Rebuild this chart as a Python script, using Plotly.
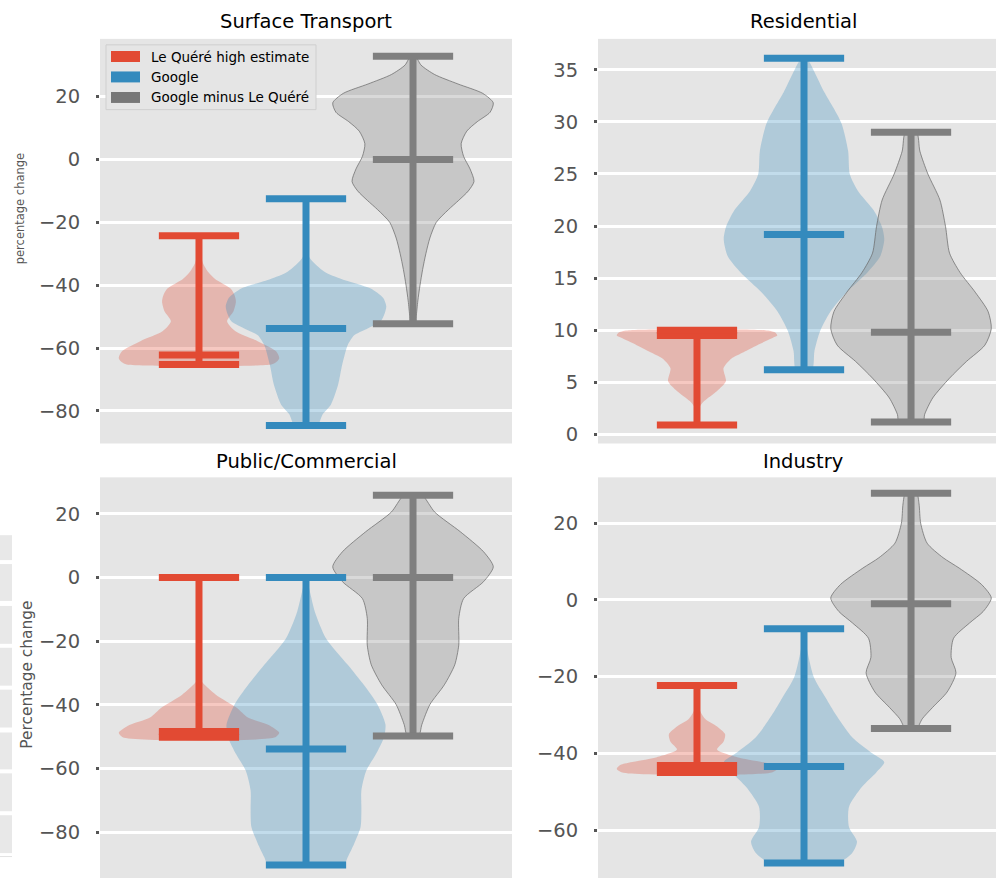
import plotly.graph_objects as go

# ---------------------------------------------------------------- data
SERIES = ["Le Quéré high estimate", "Google", "Google minus Le Quéré"]
COLORS = ["#E24A33", "#348ABD", "#7F7F7F"]
PANELS = ["Surface Transport", "Residential", "Public/Commercial", "Industry"]

# summary statistics (min, median, max) per series, one list per panel
surface_min = [-65.2, -84.6, -52.3]
surface_med = [-62.2, -53.8, 0.0]
surface_max = [-24.3, -12.5, 32.8]

residential_min = [0.9, 6.2, 1.2]
residential_med = [9.5, 19.2, 9.8]
residential_max = [10.0, 36.1, 29.0]

public_min = [-50.2, -90.3, -49.8]
public_med = [-48.4, -53.9, 0.0]
public_max = [0.0, 0.0, 25.9]

industry_min = [-45.0, -68.6, -33.5]
industry_med = [-43.2, -43.4, -1.0]
industry_max = [-22.3, -7.5, 27.8]

# kernel density profiles: evaluation levels and density scaled to 1 at the peak
surface_red_y = [-24.3, -30, -33, -36, -38, -41, -43, -45.2, -48.3, -51.5, -54.6, -57.8, -61, -63.2, -64.5, -65.2]
surface_red_d = [0.0, 0.02, 0.05, 0.12, 0.2, 0.39, 0.44, 0.46, 0.43, 0.35, 0.45, 0.73, 0.96, 1.0, 0.96, 0.9]
surface_blue_y = [-12.5, -25, -31, -35.7, -38, -41, -44, -46.7, -49, -51.5, -54, -55.9, -59, -65.4, -71.7, -78, -81, -83.5, -84.6]
surface_blue_d = [0.0, 0.01, 0.04, 0.23, 0.44, 0.8, 0.96, 1.0, 0.98, 0.93, 0.75, 0.6, 0.52, 0.45, 0.4, 0.31, 0.21, 0.17, 0.15]
surface_grey_y = [32.8, 30, 27, 24, 21, 18, 15, 12, 9, 5, 1, -3, -7, -10, -13, -16, -20, -25, -30, -35, -40, -45, -50, -52.3]
surface_grey_d = [0.03, 0.1, 0.27, 0.56, 0.87, 1.0, 0.96, 0.8, 0.67, 0.6, 0.63, 0.71, 0.76, 0.69, 0.57, 0.44, 0.29, 0.21, 0.16, 0.12, 0.087, 0.06, 0.04, 0.03]

residential_red_y = [10.0, 9.8, 9.5, 9.3, 8.57, 7.9, 7.3, 6.36, 5.1, 4.17, 3.2, 2.6, 1.5, 0.9]
residential_red_d = [0.85, 0.97, 1.0, 0.95, 0.75, 0.58, 0.43, 0.33, 0.36, 0.25, 0.09, 0.03, 0.005, 0.0]
residential_blue_y = [36.1, 35.7, 32.9, 31.3, 29.8, 27.2, 25.0, 23.4, 21.5, 19.95, 18.7, 17.1, 15.55, 13.65, 11.8, 9.9, 8.0, 6.2]
residential_blue_d = [0.03, 0.07, 0.25, 0.37, 0.47, 0.55, 0.57, 0.67, 0.87, 0.97, 1.0, 0.95, 0.79, 0.53, 0.33, 0.2, 0.13, 0.1]
residential_grey_y = [29.0, 27.2, 25.0, 22.5, 19.95, 17.4, 15.55, 13.65, 11.8, 10.15, 8.57, 7.0, 5.4, 3.5, 1.93, 1.2]
residential_grey_d = [0.07, 0.11, 0.21, 0.36, 0.43, 0.48, 0.61, 0.8, 0.96, 1.0, 0.92, 0.69, 0.48, 0.27, 0.17, 0.15]

public_red_y = [0.0, -20, -30, -32.5, -36.8, -40.9, -44, -46.6, -48.75, -50.2]
public_red_d = [0.0, 0.002, 0.01, 0.03, 0.21, 0.47, 0.61, 0.89, 1.0, 0.95]
public_blue_y = [0.0, -2.4, -10.7, -19.1, -27.4, -33.7, -39.9, -46.2, -50.3, -55.5, -60.7, -66.9, -73.1, -78.4, -83.6, -87.8, -90.3]
public_blue_d = [0.0, 0.03, 0.11, 0.25, 0.52, 0.72, 0.89, 0.99, 0.97, 0.87, 0.75, 0.69, 0.69, 0.68, 0.6, 0.52, 0.47]
public_grey_y = [25.9, 25.5, 20.6, 14.4, 8.1, 3.4, -1.25, -6.6, -12.8, -21.2, -27.4, -33.7, -39.9, -46.2, -49.8]
public_grey_d = [0.07, 0.13, 0.27, 0.59, 0.88, 1.0, 0.88, 0.63, 0.57, 0.57, 0.52, 0.39, 0.21, 0.11, 0.07]

industry_red_y = [-22.3, -28, -31, -33, -35, -37, -39, -41, -43, -44, -45.0]
industry_red_d = [0.0, 0.02, 0.1, 0.25, 0.35, 0.33, 0.25, 0.5, 0.95, 1.0, 0.93]
industry_blue_y = [-7.5, -12, -20, -25.5, -30, -35.8, -40, -42.3, -45, -48.8, -54, -59.2, -63, -66, -68.6]
industry_blue_d = [0.0, 0.03, 0.12, 0.27, 0.4, 0.6, 0.85, 1.0, 0.9, 0.72, 0.56, 0.56, 0.66, 0.6, 0.42]
industry_grey_y = [27.8, 25, 20, 14.8, 11, 8.3, 4, 0.5, -3, -6, -10, -15, -19, -24, -28, -31, -33.5]
industry_grey_d = [0.07, 0.1, 0.12, 0.2, 0.4, 0.6, 0.88, 1.0, 0.9, 0.73, 0.53, 0.5, 0.56, 0.45, 0.27, 0.14, 0.07]

Y_TICKS = [
    [-80, -60, -40, -20, 0, 20],
    [0, 5, 10, 15, 20, 25, 30, 35],
    [-80, -60, -40, -20, 0, 20],
    [-60, -40, -20, 0, 20],
]

# ---------------------------------------------------------------- layout constants
W, H = 996, 881
POSITIONS = [1, 2, 3]
VIOLIN_WIDTH = 1.5          # full width of a violin body at its peak
CAP_HALF = VIOLIN_WIDTH / 4  # half length of min / median / max bars
BAR_WIDTH = 7

def px_x(p):
    return p / W

def px_y(p):
    return 1 - p / H

# panel boxes in pixels: (left, right, top, bottom)
BOXES = [(100, 512, 39, 445), (598, 996, 39, 445), (100, 512, 479, 881), (598, 996, 479, 881)]
X_RANGES = [[0.075, 3.925], [0.075, 3.794], [0.075, 3.925], [0.075, 3.794]]
Y_RANGES = [[-90.35, 38.35], [-0.87, 37.97], [-94.4, 31.5], [-72.5, 31.95]]
TITLE_X = [306, 803, 306, 803]
TITLE_Y = [22, 22, 463, 463]

stats = [
    (surface_min, surface_med, surface_max),
    (residential_min, residential_med, residential_max),
    (public_min, public_med, public_max),
    (industry_min, industry_med, industry_max),
]
profiles = [
    [(surface_red_y, surface_red_d), (surface_blue_y, surface_blue_d), (surface_grey_y, surface_grey_d)],
    [(residential_red_y, residential_red_d), (residential_blue_y, residential_blue_d), (residential_grey_y, residential_grey_d)],
    [(public_red_y, public_red_d), (public_blue_y, public_blue_d), (public_grey_y, public_grey_d)],
    [(industry_red_y, industry_red_d), (industry_blue_y, industry_blue_d), (industry_grey_y, industry_grey_d)],
]


def rgba(hex_color, alpha):
    h = hex_color.lstrip("#")
    r, g, b = int(h[0:2], 16), int(h[2:4], 16), int(h[4:6], 16)
    return f"rgba({r},{g},{b},{alpha})"


fig = go.Figure()

for i in range(4):
    xa = "x" if i == 0 else f"x{i + 1}"
    ya = "y" if i == 0 else f"y{i + 1}"

    # violin bodies
    for s in range(3):
        levels, dens = profiles[i][s]
        pos = POSITIONS[s]
        half = [d * VIOLIN_WIDTH / 2 for d in dens]
        xs = [pos + h for h in half] + [pos - h for h in reversed(half)] + [pos + half[0]]
        ys = list(levels) + list(reversed(levels)) + [levels[0]]
        is_grey = s == 2
        fig.add_trace(go.Scatter(
            x=xs, y=ys, xaxis=xa, yaxis=ya, mode="lines",
            line=dict(shape="spline", smoothing=0.7,
                      color=rgba("#6E6E6E", 0.75) if is_grey else "rgba(0,0,0,0)",
                      width=1 if is_grey else 0),
            fill="toself", fillcolor=rgba("#808080" if is_grey else COLORS[s], 0.3),
            hoverinfo="skip", showlegend=False,
        ))

    # extrema and median bars
    mins, meds, maxs = stats[i]
    for s in range(3):
        pos = POSITIONS[s]
        xs, ys = [pos, pos, None], [mins[s], maxs[s], None]
        for v in (mins[s], meds[s], maxs[s]):
            xs += [pos - CAP_HALF, pos + CAP_HALF, None]
            ys += [v, v, None]
        fig.add_trace(go.Scatter(
            x=xs, y=ys, xaxis=xa, yaxis=ya, mode="lines",
            line=dict(color=COLORS[s], width=BAR_WIDTH),
            hoverinfo="skip", showlegend=False,
        ))

layout = dict(
    width=W, height=H, margin=dict(l=0, r=0, t=0, b=0),
    paper_bgcolor="white", plot_bgcolor="#E5E5E5",
    font=dict(family="DejaVu Sans", color="#555555"),
    showlegend=False,
)

annotations = []
shapes = []
for i in range(4):
    l, r, t, b = BOXES[i]
    xkey = "xaxis" if i == 0 else f"xaxis{i + 1}"
    ykey = "yaxis" if i == 0 else f"yaxis{i + 1}"
    xa = "x" if i == 0 else f"x{i + 1}"
    ya = "y" if i == 0 else f"y{i + 1}"
    layout[xkey] = dict(
        domain=[px_x(l), px_x(r)], range=X_RANGES[i], anchor=ya,
        showticklabels=False, showgrid=False, zeroline=False, ticks="", showline=False,
    )
    layout[ykey] = dict(
        domain=[px_y(b), px_y(t)], range=Y_RANGES[i], anchor=xa,
        tickvals=Y_TICKS[i], ticks="outside", ticklen=3, tickwidth=2.5, tickcolor="#555555",
        ticklabelstandoff=12,
        tickfont=dict(size=19.5, color="#555555", family="DejaVu Sans"),
        showgrid=True, gridcolor="white", gridwidth=3, zeroline=False, showline=False,
    )
    annotations.append(dict(
        text=PANELS[i], x=px_x(TITLE_X[i]), y=px_y(TITLE_Y[i]), xref="paper", yref="paper",
        xanchor="center", yanchor="middle", showarrow=False,
        font=dict(size=19.5, color="black", family="DejaVu Sans"),
    ))

# y axis labels
annotations.append(dict(
    text="percentage change", x=px_x(20), y=px_y(210), xref="paper", yref="paper",
    textangle=-90, showarrow=False, xanchor="center", yanchor="middle",
    font=dict(size=11.5, color="#555555", family="DejaVu Sans"),
))
annotations.append(dict(
    text="Percentage change", x=px_x(27), y=px_y(677), xref="paper", yref="paper",
    textangle=-90, showarrow=False, xanchor="center", yanchor="middle",
    font=dict(size=15.4, color="#555555", family="DejaVu Sans"),
))

# legend box in the first panel
shapes.append(dict(
    type="rect", xref="paper", yref="paper",
    x0=px_x(106), x1=px_x(316), y0=px_y(110), y1=px_y(45),
    fillcolor="#E5E5E5", line=dict(color="#CFCFCF", width=1), layer="above",
))
LEGEND_ROWS = [56.7, 77.2, 97.8]
LEGEND_PATCH = ["#E24A33", "#348ABD", "#777777"]
for k, name in enumerate(SERIES):
    cy = LEGEND_ROWS[k]
    shapes.append(dict(
        type="rect", xref="paper", yref="paper",
        x0=px_x(111), x1=px_x(140), y0=px_y(cy + 5.5), y1=px_y(cy - 5.5),
        fillcolor=LEGEND_PATCH[k], line=dict(width=0), layer="above",
    ))
    annotations.append(dict(
        text=name, x=px_x(149), y=px_y(cy), xref="paper", yref="paper",
        xanchor="left", yanchor="middle", showarrow=False,
        font=dict(size=13.5, color="black", family="DejaVu Sans"),
    ))

# strips of a neighbouring table at the left page edge
STRIPS = [(537, 562), (566, 603), (608, 646), (650, 688), (692, 730), (735, 772), (776, 814), (818, 856)]
for y0, y1 in STRIPS:
    shapes.append(dict(
        type="rect", xref="paper", yref="paper",
        x0=0, x1=px_x(12), y0=px_y(y1), y1=px_y(y0),
        fillcolor="#E8E8E8", line=dict(width=0), layer="below",
    ))
shapes.append(dict(
    type="line", xref="paper", yref="paper",
    x0=0, x1=px_x(12), y0=px_y(859.5), y1=px_y(859.5),
    line=dict(color="#E2E2E2", width=1),
))

layout["annotations"] = annotations
layout["shapes"] = shapes
fig.update_layout(**layout)

fig.write_html("out.html")
